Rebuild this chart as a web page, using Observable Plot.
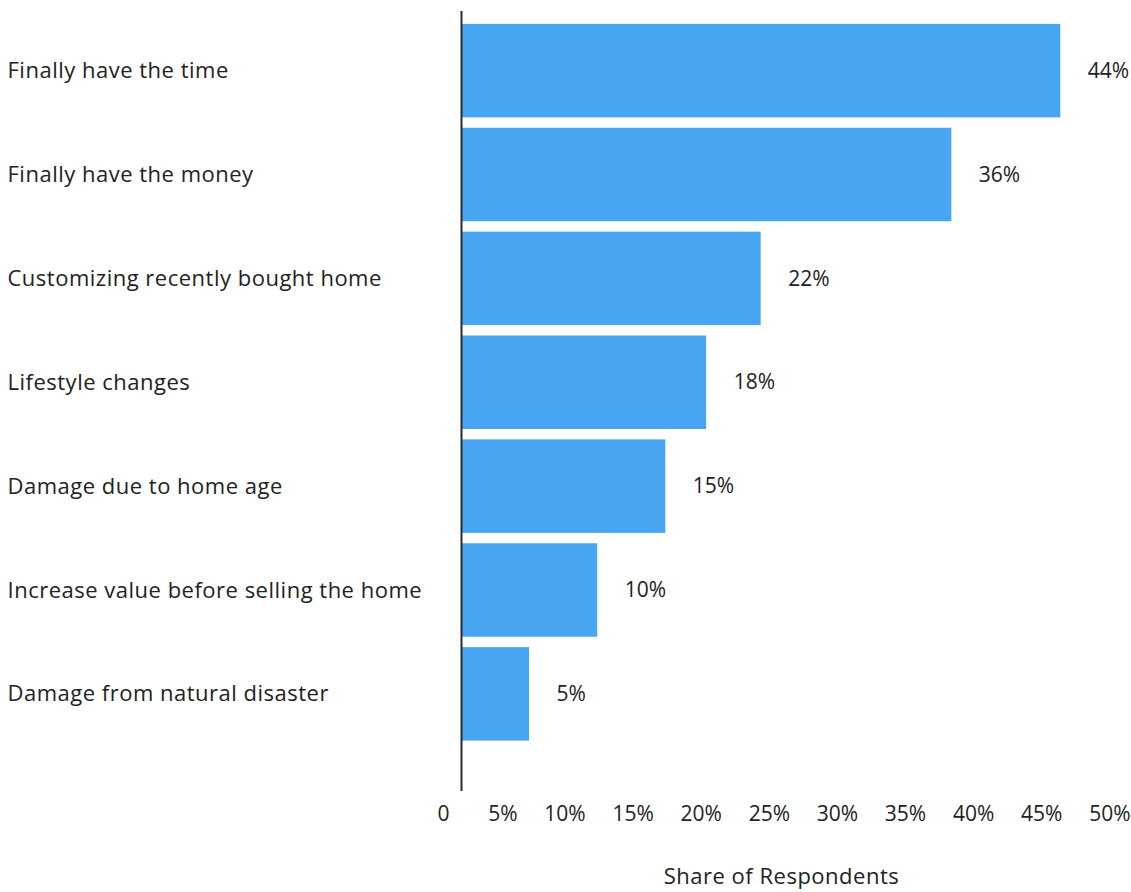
<!DOCTYPE html>
<html>
<head>
<meta charset="utf-8">
<script src="https://cdn.jsdelivr.net/npm/d3@7"></script>
<script src="https://cdn.jsdelivr.net/npm/@observablehq/plot@0.6"></script>
<style>
  html, body { margin: 0; padding: 0; background: #fff; }
  #chart svg { display: block; }
  #chart svg .wide text { letter-spacing: 0.5px; }
</style>
</head>
<body>
<div id="chart"></div>
<script>
const categories = [
  "Finally have the time",
  "Finally have the money",
  "Customizing recently bought home",
  "Lifestyle changes",
  "Damage due to home age",
  "Increase value before selling the home",
  "Damage from natural disaster"
];
const values = [44, 36, 22, 18, 15, 10, 5];
const xTicks = [0, 5, 10, 15, 20, 25, 30, 35, 40, 45, 50];
const xLabel = "Share of Respondents";

const data = categories.map((c, i) => ({category: c, value: values[i]}));
const font = "'Open Sans', 'Noto Sans', sans-serif";

const chart = Plot.plot({
  width: 1131,
  height: 892,
  marginTop: 11,
  marginBottom: 101,
  marginLeft: 461,
  marginRight: 0,
  style: {fontFamily: font, fontSize: "20px", color: "#222", background: "#fff", overflow: "visible"},
  x: {domain: [0, 50], range: [461, 1142]},
  y: {domain: categories, range: [13.5, 751], padding: 0.1, round: false, axis: null},
  marks: [
    Plot.barX(data, {x: "value", y: "category", fill: "#47A5F2"}),
    Plot.ruleX([0], {stroke: "#2b2b2b", strokeWidth: 2}),
    Plot.text(data, {
      y: "category", text: "category", frameAnchor: "left",
      textAnchor: "start", dx: -454, fill: "#222", fontSize: 22, className: "wide"
    }),
    Plot.text(data, {
      x: "value", y: "category", text: d => d.value + "%",
      textAnchor: "start", dx: 27, fill: "#222", fontSize: 21
    }),
    Plot.axisX({
      ticks: xTicks, tickSize: 0, tickPadding: 15,
      tickFormat: d => d === 0 ? "0" : d + "%",
      textAnchor: "end", dx: -12, fill: "#222", fontSize: 21,
      label: null
    }),
    Plot.text([xLabel], {
      text: d => d, frameAnchor: "bottom", textAnchor: "middle",
      dx: -15, dy: 92, fill: "#222", fontSize: 22, className: "wide"
    })
  ]
});
document.getElementById("chart").appendChild(chart);
</script>
</body>
</html>
